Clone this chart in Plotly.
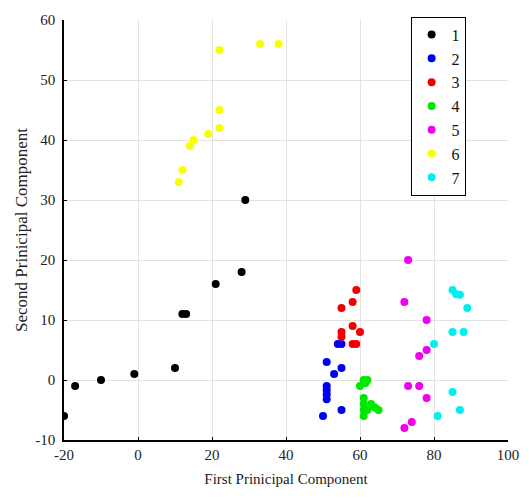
import plotly.graph_objects as go

# ---- data ----
group_names = ["1", "2", "3", "4", "5", "6", "7"]
group_colors = ["#000000", "#0000f0", "#f00000", "#00e800", "#f000f0", "#f8ff00", "#00f0f0"]

g1_x = [-20, -17, -10, -1, 10, 12, 13, 21, 28, 29]
g1_y = [-6, -1, 0, 1, 2, 11, 11, 16, 18, 30]

g2_x = [54, 55, 51, 55, 53, 51, 51, 51, 51, 55, 50]
g2_y = [6, 6, 3, 2, 1, -1, -1.7, -2.4, -3.2, -5, -6]

g3_x = [59, 58, 55, 58, 60, 55, 55, 58, 59]
g3_y = [15, 13, 12, 9, 8, 8, 7.2, 6, 6]

g4_x = [60, 61, 62, 61.5, 61, 61, 61, 61, 62, 63, 64, 65]
g4_y = [-1, 0, 0, -0.5, -3, -4, -5, -6, -5, -4, -4.6, -5]

g5_x = [73, 72, 78, 78, 76, 73, 76, 78, 74, 72]
g5_y = [20, 13, 10, 5, 4, -1, -1, -3, -7, -8]

g6_x = [22, 33, 38, 22, 22, 19, 15, 14, 12, 11]
g6_y = [55, 56, 56, 45, 42, 41, 40, 39, 35, 33]

g7_x = [85, 86, 87, 89, 85, 88, 80, 85, 87, 81]
g7_y = [15, 14.3, 14.2, 12, 8, 8, 6, -2, -5, -6]

xs = [g1_x, g2_x, g3_x, g4_x, g5_x, g6_x, g7_x]
ys = [g1_y, g2_y, g3_y, g4_y, g5_y, g6_y, g7_y]

x_ticks = [-20, 0, 20, 40, 60, 80, 100]
y_ticks = [-10, 0, 10, 20, 30, 40, 50, 60]

FONT = "Liberation Serif, Times New Roman, serif"

fig = go.Figure()
for name, color, x, y in zip(group_names, group_colors, xs, ys):
    fig.add_trace(go.Scatter(
        x=x, y=y, mode="markers", name=name,
        marker=dict(color=color, size=8, line=dict(width=0)),
    ))

fig.update_layout(
    width=531, height=499,
    margin=dict(l=64, r=19, t=15, b=59),
    paper_bgcolor="white", plot_bgcolor="white",
    font=dict(family=FONT, color="#222222", size=15),
    showlegend=True,
    legend=dict(
        x=0.8426, y=1.008, xanchor="center", yanchor="top",
        bgcolor="white", bordercolor="#000000", borderwidth=1,
        font=dict(family=FONT, size=16, color="#111111"),
        itemwidth=30, tracegroupgap=0,
    ),
    xaxis=dict(
        range=[-20, 100], tickvals=x_ticks, ticktext=[str(v) for v in x_ticks],
        showgrid=True, gridcolor="#e2e2e2", gridwidth=1,
        zeroline=False, showline=True, linecolor="#000000", linewidth=1.5,
        ticks="inside", ticklen=3, tickcolor="#000000",
        tickfont=dict(family=FONT, size=15, color="#222222"),
        title=dict(text="First Prinicipal Component", font=dict(family=FONT, size=15, color="#222222"), standoff=12),
    ),
    yaxis=dict(
        range=[-10, 60], tickvals=y_ticks, ticktext=[str(v) for v in y_ticks],
        showgrid=True, gridcolor="#e2e2e2", gridwidth=1,
        zeroline=False, showline=True, linecolor="#000000", linewidth=1.5,
        ticks="inside", ticklen=3, tickcolor="#000000",
        ticklabelstandoff=4,
        tickfont=dict(family=FONT, size=15, color="#222222"),
        title=dict(text="Second Prinicipal Component", font=dict(family=FONT, size=17, color="#222222"), standoff=3),
    ),
)

fig.write_html("out.html")
